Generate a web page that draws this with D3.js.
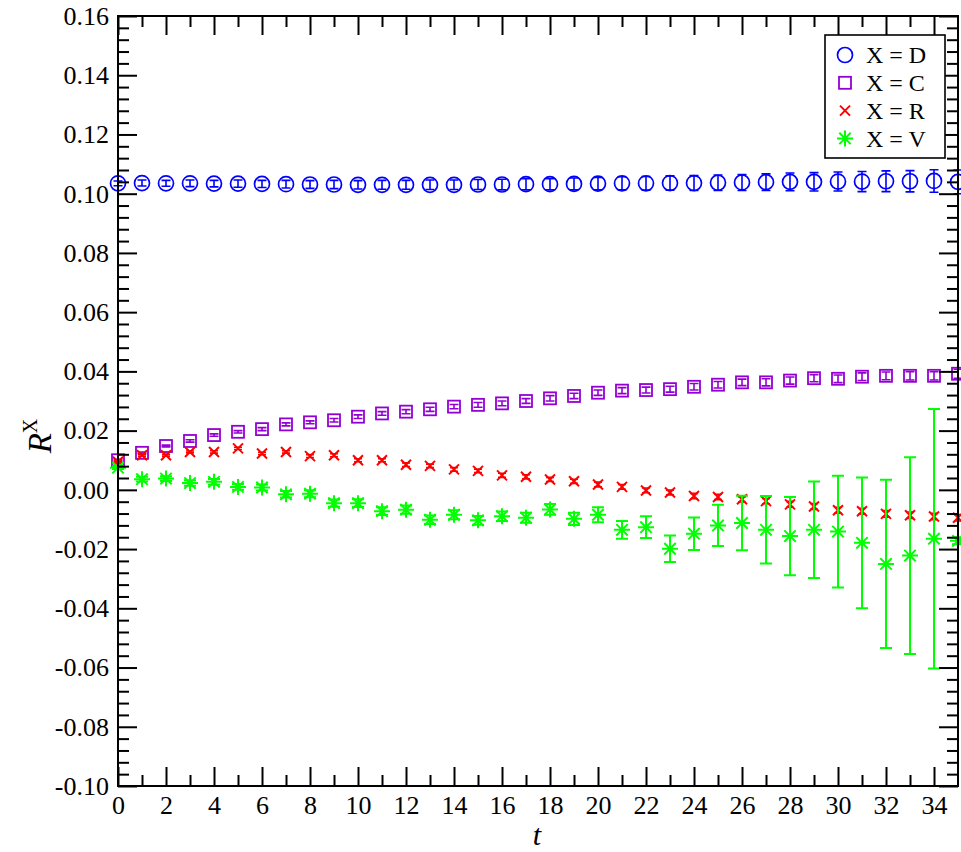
<!DOCTYPE html>
<html>
<head>
<meta charset="utf-8">
<script src="https://cdn.jsdelivr.net/npm/d3@7"></script>
<style>
  html, body { margin: 0; padding: 0; background: #fff; }
  svg { display: block; }
  svg text { font-family: "Liberation Serif", "Times New Roman", Times, "DejaVu Serif", serif; fill: #000; }
</style>
</head>
<body>
<svg id="chart" width="961" height="852"></svg>
<script>
// Time slices
const tValues = d3.range(0, 36);

// X = D
const dValues = [0.1035, 0.1036, 0.1035, 0.1035, 0.1034, 0.1034, 0.1033, 0.1032, 0.1031, 0.1031,
                 0.1030, 0.1030, 0.1030, 0.1030, 0.1030, 0.1031, 0.1031, 0.1032, 0.1032, 0.1033,
                 0.1034, 0.1035, 0.1035, 0.1036, 0.1036, 0.1037, 0.1038, 0.1039, 0.1040, 0.1040,
                 0.1041, 0.1041, 0.1042, 0.1042, 0.1043, 0.1040];
const dErrors = [0.0008, 0.0010, 0.0010, 0.0011, 0.0011, 0.0012, 0.0012, 0.0013, 0.0013, 0.0014,
                 0.0014, 0.0015, 0.0015, 0.0016, 0.0016, 0.0017, 0.0018, 0.0019, 0.0019, 0.0020,
                 0.0021, 0.0022, 0.0023, 0.0024, 0.0025, 0.0026, 0.0027, 0.0028, 0.0030, 0.0031,
                 0.0032, 0.0034, 0.0035, 0.0036, 0.0038, 0.0040];

// X = C
const cValues = [0.0100, 0.0125, 0.0148, 0.0165, 0.0185, 0.0196, 0.0205, 0.0221, 0.0228, 0.0235,
                 0.0247, 0.0258, 0.0264, 0.0272, 0.0281, 0.0287, 0.0292, 0.0300, 0.0309, 0.0317,
                 0.0328, 0.0335, 0.0337, 0.0340, 0.0348, 0.0355, 0.0363, 0.0363, 0.0369, 0.0377,
                 0.0375, 0.0382, 0.0385, 0.0385, 0.0385, 0.0392];
const cErrors = [0.0003, 0.0003, 0.0003, 0.0004, 0.0004, 0.0004, 0.0005, 0.0005, 0.0005, 0.0006,
                 0.0006, 0.0006, 0.0007, 0.0007, 0.0007, 0.0008, 0.0008, 0.0008, 0.0009, 0.0009,
                 0.0009, 0.0010, 0.0010, 0.0010, 0.0011, 0.0011, 0.0011, 0.0012, 0.0012, 0.0012,
                 0.0013, 0.0013, 0.0013, 0.0014, 0.0014, 0.0015];

// X = R
const rValues = [0.0095, 0.0117, 0.0117, 0.0128, 0.0128, 0.0140, 0.0123, 0.0128, 0.0114, 0.0117,
                 0.0100, 0.0100, 0.0085, 0.0081, 0.0069, 0.0064, 0.0049, 0.0044, 0.0035, 0.0029,
                 0.0018, 0.0010, -0.0002, -0.0009, -0.0021, -0.0024, -0.0032, -0.0038, -0.0049, -0.0056,
                 -0.0069, -0.0072, -0.0081, -0.0086, -0.0090, -0.0094];
const rErrors = [0.0003, 0.0003, 0.0003, 0.0003, 0.0004, 0.0004, 0.0004, 0.0004, 0.0005, 0.0005,
                 0.0005, 0.0005, 0.0006, 0.0006, 0.0006, 0.0006, 0.0007, 0.0007, 0.0007, 0.0007,
                 0.0008, 0.0008, 0.0008, 0.0008, 0.0009, 0.0009, 0.0009, 0.0009, 0.0010, 0.0010,
                 0.0010, 0.0010, 0.0011, 0.0011, 0.0011, 0.0011];

// X = V
const vValues = [0.0075, 0.0036, 0.0038, 0.0023, 0.0027, 0.0010, 0.0008, -0.0015, -0.0013, -0.0045,
                 -0.0045, -0.0072, -0.0067, -0.0101, -0.0084, -0.0103, -0.0089, -0.0094, -0.0066, -0.0098,
                 -0.0084, -0.0135, -0.0126, -0.0199, -0.0148, -0.0120, -0.0112, -0.0135, -0.0156, -0.0135,
                 -0.0141, -0.0179, -0.0250, -0.0222, -0.0165, -0.0172];
const vErrors = [0.0005, 0.0008, 0.0008, 0.0009, 0.0010, 0.0010, 0.0010, 0.0011, 0.0012, 0.0012,
                 0.0013, 0.0013, 0.0014, 0.0014, 0.0015, 0.0015, 0.0016, 0.0017, 0.0018, 0.0021,
                 0.0025, 0.0030, 0.0037, 0.0045, 0.0055, 0.0070, 0.0092, 0.0114, 0.0132, 0.0163,
                 0.0189, 0.0221, 0.0284, 0.0332, 0.0438, 0.0012];

// Axis ticks and labels
const xMajorTicks = d3.range(0, 35, 2);
const xMinorTicks = d3.range(1, 35, 2);
const xTickLabels = ["0", "2", "4", "6", "8", "10", "12", "14", "16", "18",
                     "20", "22", "24", "26", "28", "30", "32", "34"];
const yMajorTicks = [-0.10, -0.08, -0.06, -0.04, -0.02, 0.00, 0.02, 0.04, 0.06, 0.08, 0.10, 0.12, 0.14, 0.16];
const yTickLabels = ["-0.10", "-0.08", "-0.06", "-0.04", "-0.02", "0.00", "0.02", "0.04",
                     "0.06", "0.08", "0.10", "0.12", "0.14", "0.16"];
const yMinorTicks = d3.range(0, 66).map(i => -0.10 + i * 0.004).filter((v, i) => i % 5 !== 0);

const seriesNames = ["X = D", "X = C", "X = R", "X = V"];
const seriesColors = ["#0000ff", "#9400d3", "#ff0000", "#00ff00"];
const seriesShapes = ["circle", "square", "cross", "star"];

// ---------------------------------------------------------------
const FONT = '"Liberation Serif", "Times New Roman", Times, "DejaVu Serif", serif';
const svg = d3.select("#chart");
const plotLeft = 118, plotRight = 958, plotTop = 16, plotBottom = 786;

const x = d3.scaleLinear().domain([0, 35]).range([plotLeft, plotRight]);
const y = d3.scaleLinear().domain([-0.10, 0.16]).range([plotBottom, plotTop]);

const series = [
  { name: seriesNames[0], values: dValues, errors: dErrors, color: seriesColors[0], shape: seriesShapes[0], cap: 9, lw: 1.6 },
  { name: seriesNames[1], values: cValues, errors: cErrors, color: seriesColors[1], shape: seriesShapes[1], cap: 9, lw: 1.6 },
  { name: seriesNames[2], values: rValues, errors: rErrors, color: seriesColors[2], shape: seriesShapes[2], cap: 8, lw: 1.6 },
  { name: seriesNames[3], values: vValues, errors: vErrors, color: seriesColors[3], shape: seriesShapes[3], cap: 12, lw: 2 }
];

// Marker painter
function drawMarker(g, shape, color, cx, cy) {
  if (shape === "circle") {
    g.append("circle").attr("cx", cx).attr("cy", cy).attr("r", 7.5)
      .attr("fill", "none").attr("stroke", color).attr("stroke-width", 1.7);
  } else if (shape === "square") {
    g.append("rect").attr("x", cx - 6).attr("y", cy - 6).attr("width", 12).attr("height", 12)
      .attr("fill", "none").attr("stroke", color).attr("stroke-width", 1.8);
  } else if (shape === "cross") {
    const s = 5;
    g.append("path").attr("d", `M${cx - s},${cy - s}L${cx + s},${cy + s}M${cx - s},${cy + s}L${cx + s},${cy - s}`)
      .attr("stroke", color).attr("stroke-width", 2).attr("fill", "none");
  } else if (shape === "star") {
    const s = 8, d = 5.7;
    g.append("path").attr("d",
        `M${cx - s},${cy}L${cx + s},${cy}M${cx},${cy - s}L${cx},${cy + s}` +
        `M${cx - d},${cy - d}L${cx + d},${cy + d}M${cx - d},${cy + d}L${cx + d},${cy - d}`)
      .attr("stroke", color).attr("stroke-width", 2).attr("fill", "none");
  }
}

// Data: error bars, then symbols
series.forEach(s => {
  const g = svg.append("g").attr("class", "series");
  tValues.forEach((t, i) => {
    const cx = x(t);
    const y1 = y(s.values[i] + s.errors[i]);
    const y2 = y(s.values[i] - s.errors[i]);
    g.append("path")
      .attr("d", `M${cx},${y1}L${cx},${y2}M${cx - s.cap / 2},${y1}L${cx + s.cap / 2},${y1}M${cx - s.cap / 2},${y2}L${cx + s.cap / 2},${y2}`)
      .attr("stroke", s.color).attr("stroke-width", s.lw).attr("fill", "none");
  });
  tValues.forEach((t, i) => drawMarker(g, s.shape, s.color, x(t), y(s.values[i])));
});

// Axes: ticks point inward on all four sides
const axisStyle = sel => {
  sel.attr("font-family", FONT);
  sel.select(".domain").remove();
  sel.selectAll(".tick line").attr("stroke", "#000").attr("stroke-width", 2);
  sel.selectAll(".tick text").style("font-family", FONT).attr("font-size", 26).attr("fill", "#000");
};

svg.append("g").attr("transform", `translate(0,${plotBottom})`)
  .call(d3.axisBottom(x).tickValues(xMajorTicks).tickSize(-19).tickPadding(10)
    .tickFormat((d, i) => xTickLabels[i]))
  .call(axisStyle);
svg.append("g").attr("transform", `translate(0,${plotBottom})`)
  .call(d3.axisBottom(x).tickValues(xMinorTicks).tickSize(-11).tickFormat(""))
  .call(axisStyle);
svg.append("g").attr("transform", `translate(0,${plotTop})`)
  .call(d3.axisTop(x).tickValues(xMajorTicks).tickSize(-19).tickFormat(""))
  .call(axisStyle);
svg.append("g").attr("transform", `translate(0,${plotTop})`)
  .call(d3.axisTop(x).tickValues(xMinorTicks).tickSize(-11).tickFormat(""))
  .call(axisStyle);

svg.append("g").attr("transform", `translate(${plotLeft},0)`)
  .call(d3.axisLeft(y).tickValues(yMajorTicks).tickSize(-19).tickPadding(9)
    .tickFormat((d, i) => yTickLabels[i]))
  .call(axisStyle);
svg.append("g").attr("transform", `translate(${plotLeft},0)`)
  .call(d3.axisLeft(y).tickValues(yMinorTicks).tickSize(-11).tickFormat(""))
  .call(axisStyle);
svg.append("g").attr("transform", `translate(${plotRight},0)`)
  .call(d3.axisRight(y).tickValues(yMajorTicks).tickSize(-19).tickFormat(""))
  .call(axisStyle);
svg.append("g").attr("transform", `translate(${plotRight},0)`)
  .call(d3.axisRight(y).tickValues(yMinorTicks).tickSize(-11).tickFormat(""))
  .call(axisStyle);

// Frame
svg.append("rect").attr("x", plotLeft).attr("y", plotTop)
  .attr("width", plotRight - plotLeft).attr("height", plotBottom - plotTop)
  .attr("fill", "none").attr("stroke", "#000").attr("stroke-width", 2);

// Axis titles
svg.append("text").attr("x", 537).attr("y", 845)
  .attr("text-anchor", "middle").attr("font-size", 30).attr("font-style", "italic")
  .style("font-family", FONT).text("t");

const yTitle = svg.append("text")
  .attr("transform", "translate(51,436) rotate(-90)")
  .attr("text-anchor", "middle").attr("font-size", 33).style("font-family", FONT);
yTitle.append("tspan").attr("font-style", "italic").text("R");
yTitle.append("tspan").attr("font-size", 20).attr("dy", -14).text("X");

// Legend
const legend = svg.append("g");
legend.append("rect").attr("x", 825).attr("y", 35).attr("width", 120).attr("height", 123)
  .attr("fill", "#fff").attr("stroke", "#000").attr("stroke-width", 1.6);
series.forEach((s, i) => {
  const ly = 55 + i * 27.8;
  drawMarker(legend, s.shape, s.color, 845, ly);
  legend.append("text").attr("x", 866).attr("y", ly).attr("dy", "0.35em")
    .attr("font-size", 24).style("font-family", FONT).text(s.name);
});
</script>
</body>
</html>
